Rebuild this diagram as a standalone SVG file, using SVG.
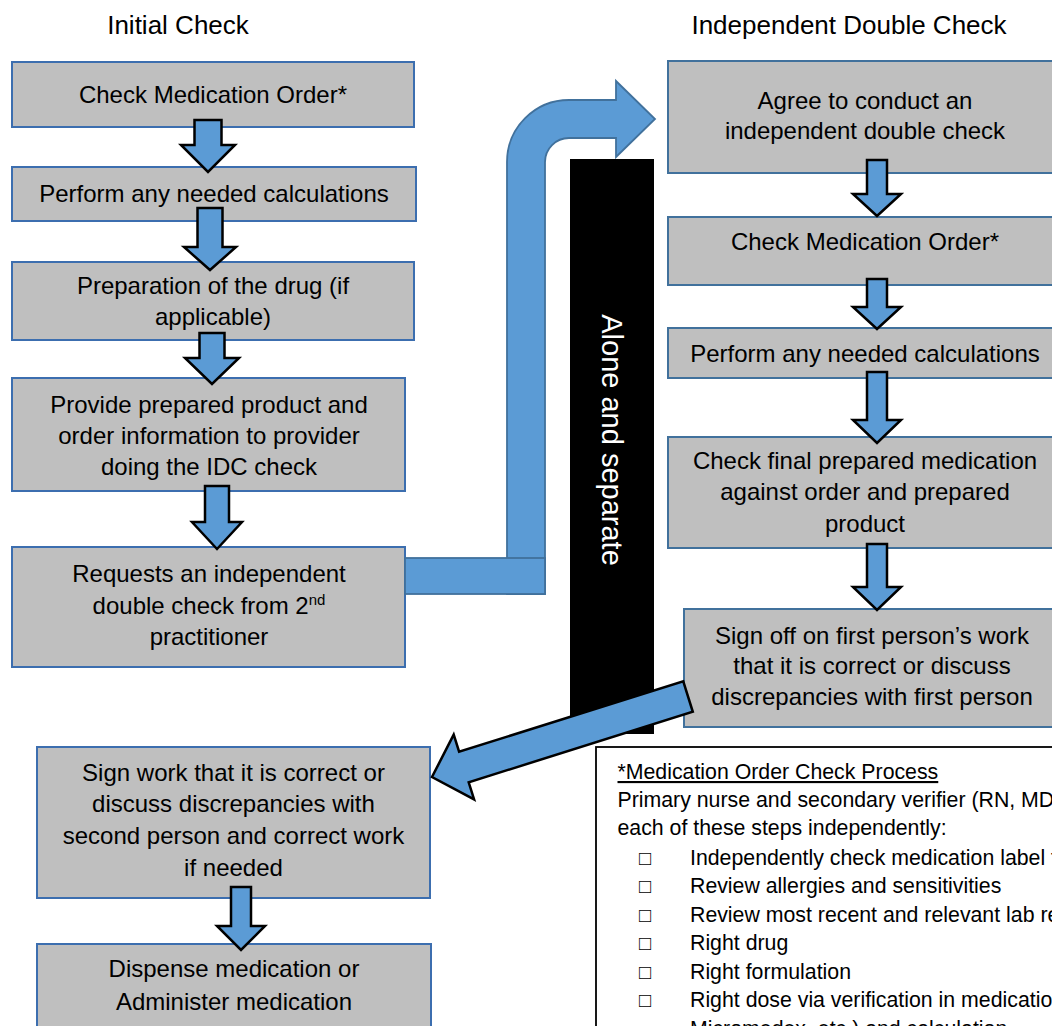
<svg xmlns="http://www.w3.org/2000/svg" width="1052" height="1026" viewBox="0 0 1052 1026">
<style>
text{font-family:"Liberation Sans",Arial,sans-serif;fill:#000}
.box{fill:#BFBFBF;stroke:#3C6EAF;stroke-width:2}
.boxr{fill:#BFBFBF;stroke:#41719C;stroke-width:2}
.t{font-size:24px;text-anchor:middle}
.h{font-size:26px;text-anchor:middle}
.dn{fill:#5B9BD5;stroke:#000;stroke-width:2.5;stroke-linejoin:miter}
.bent{fill:#5B9BD5;stroke:#41719C;stroke-width:1.8}
.note{font-size:21.3px}
.bul{font-size:20px}
</style>
<rect width="1052" height="1026" fill="#fff"/>
<text class="h" x="178" y="34">Initial Check</text>
<text class="h" x="849" y="34">Independent Double Check</text>

<g id="separator">
<rect x="570" y="159" width="84" height="575" fill="#000"/>
<text transform="translate(612,440) rotate(90)" text-anchor="middle" dy="0.35em" font-size="29px" style="fill:#fff">Alone and separate</text>
</g>

<g id="n1"><rect class="box" x="12" y="62" width="402" height="65"/><text class="t" x="213" y="102.5">Check Medication Order*</text></g>
<g id="n2"><rect class="box" x="12" y="167" width="404" height="54"/><text class="t" x="214" y="202">Perform any needed calculations</text></g>
<g id="n3"><rect class="box" x="12" y="262" width="402" height="78"/><text class="t" x="213" y="293.5">Preparation of the drug (if</text><text class="t" x="213" y="324.5">applicable)</text></g>
<g id="n4"><rect class="box" x="12" y="378" width="393" height="113"/><text class="t" x="209" y="412.5">Provide prepared product and</text><text class="t" x="209" y="443.5">order information to provider</text><text class="t" x="209" y="474.5">doing the IDC check</text></g>
<g id="n5"><rect class="box" x="12" y="547" width="393" height="120"/><text class="t" x="209" y="582">Requests an independent</text><text class="t" x="209" y="613.5">double check from 2<tspan font-size="15px" dy="-9">nd</tspan></text><text class="t" x="209" y="645">practitioner</text></g>
<g id="n6"><rect class="box" x="37" y="747" width="393" height="151"/><text class="t" x="233.5" y="781">Sign work that it is correct or</text><text class="t" x="233.5" y="812">discuss discrepancies with</text><text class="t" x="233.5" y="844">second person and correct work</text><text class="t" x="233.5" y="876">if needed</text></g>
<g id="n7"><rect class="box" x="37" y="944" width="394" height="120"/><text class="t" x="234" y="977">Dispense medication or</text><text class="t" x="234" y="1009.5">Administer medication</text></g>

<g id="r1"><rect class="boxr" x="668" y="61" width="394" height="112"/><text class="t" x="865" y="108.5">Agree to conduct an</text><text class="t" x="865" y="138.5">independent double check</text></g>
<g id="r2"><rect class="boxr" x="668" y="217" width="394" height="68"/><text class="t" x="865" y="250">Check Medication Order*</text></g>
<g id="r3"><rect class="boxr" x="668" y="328" width="394" height="50"/><text class="t" x="865" y="362">Perform any needed calculations</text></g>
<g id="r4"><rect class="boxr" x="668" y="437" width="394" height="111"/><text class="t" x="865" y="468.5">Check final prepared medication</text><text class="t" x="865" y="499.5">against order and prepared</text><text class="t" x="865" y="531.5">product</text></g>
<g id="r5"><rect class="boxr" x="684" y="609" width="378" height="118"/><text class="t" x="872" y="643.5">Sign off on first person’s work</text><text class="t" x="872" y="673.5">that it is correct or discuss</text><text class="t" x="872" y="705">discrepancies with first person</text></g>

<g id="note">
<rect x="596" y="747" width="500" height="320" fill="#fff" stroke="#000" stroke-width="1.8"/>
<text class="note" x="617.5" y="779" text-decoration="underline">*Medication Order Check Process</text>
<text class="note" x="617.5" y="807">Primary nurse and secondary verifier (RN, MD</text>
<text class="note" x="617.5" y="834.5">each of these steps independently:</text>
<g class="bul">
<text x="639" y="864.5">□</text><text x="639" y="893">□</text><text x="639" y="921.5">□</text><text x="639" y="950">□</text><text x="639" y="978.5">□</text><text x="639" y="1007">□</text>
</g>
<text class="note" x="690" y="864.5">Independently check medication label f</text>
<text class="note" x="690" y="893">Review allergies and sensitivities</text>
<text class="note" x="690" y="921.5">Review most recent and relevant lab re</text>
<text class="note" x="690" y="950">Right drug</text>
<text class="note" x="690" y="978.5">Right formulation</text>
<text class="note" x="690" y="1007">Right dose via verification in medicatio</text>
<text class="note" x="690" y="1035.5">Micromedex, etc.) and calculation</text>
</g>

<g id="connectors">
<path class="dn" d="M194.5,120 L221.5,120 L221.5,145 L235,145 L208,172 L181,145 L194.5,145 Z"/>
<path class="dn" d="M197.5,208 L222.5,208 L222.5,247 L236,247 L210,270 L184,247 L197.5,247 Z"/>
<path class="dn" d="M199.5,333 L224.5,333 L224.5,358 L239,358 L212,384 L185,358 L199.5,358 Z"/>
<path class="dn" d="M205,486 L229,486 L229,522 L242,522 L217,549 L192,522 L205,522 Z"/>
<path class="dn" d="M231,887 L251,887 L251,926 L265,926 L241,950 L217,926 L231,926 Z"/>
<path class="dn" d="M867,160 L887,160 L887,194 L901,194 L877,216 L853,194 L867,194 Z"/>
<path class="dn" d="M867,279 L887,279 L887,307 L901,307 L877,329 L853,307 L867,307 Z"/>
<path class="dn" d="M867,372 L887,372 L887,420 L901,420 L877,443 L853,420 L867,420 Z"/>
<path class="dn" d="M867,544 L887,544 L887,587 L901,587 L877,610 L853,587 L867,587 Z"/>
<path class="bent" d="M507,594 L507,162 A62,62 0 0 1 569,100 L616,100 L616,81 L655,119 L616,157 L616,138 L569,138 A24,24 0 0 0 545,162 L545,594 Z"/>
<rect class="bent" x="405" y="558" width="140" height="36"/>
<path class="dn" d="M683.2,681.2 L692.8,711.8 L468.7,782.3 L474.1,799.4 L432,777 L453.7,734.6 L459.1,751.7 Z"/>
</g>
</svg>
